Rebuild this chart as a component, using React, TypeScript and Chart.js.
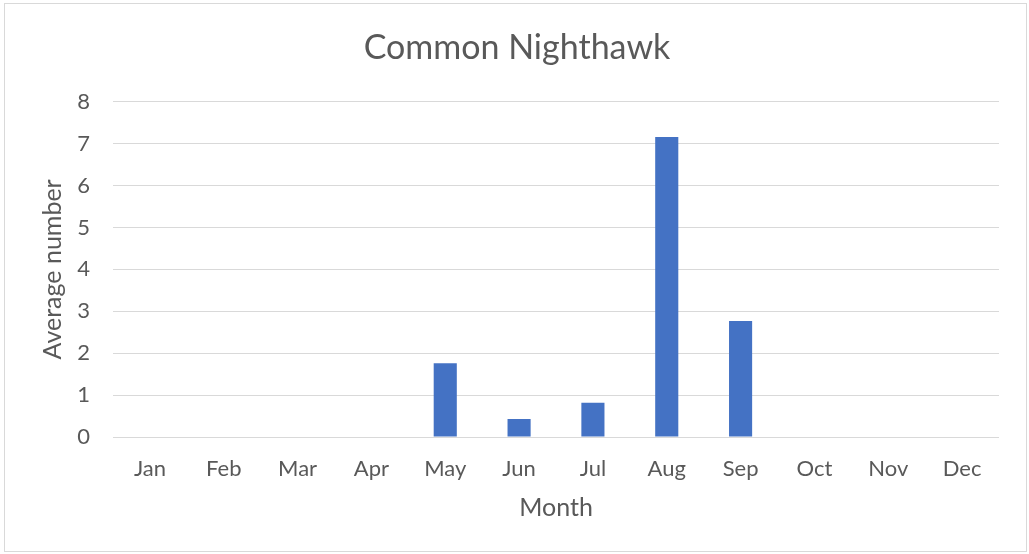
import React, { useEffect, useRef } from "react";
import { Chart, registerables } from "chart.js";

Chart.register(...registerables);

const months = ["Jan", "Feb", "Mar", "Apr", "May", "Jun", "Jul", "Aug", "Sep", "Oct", "Nov", "Dec"];
const averages = [0, 0, 0, 0, 1.76, 0.43, 0.82, 7.16, 2.77, 0, 0, 0];
const chartTitle = "Common Nighthawk";
const xTitle = "Month";
const yTitle = "Average number";

const FONT = "Lato, 'Open Sans', sans-serif";
const TEXT = "#595959";

export default function App() {
  const ref = useRef<HTMLCanvasElement | null>(null);

  useEffect(() => {
    document.body.style.margin = "0";
    const canvas = ref.current;
    if (!canvas) return;
    const chart = new Chart(canvas, {
      type: "bar",
      data: {
        labels: months,
        datasets: [
          {
            label: "Average number",
            data: averages,
            backgroundColor: "#4472c4",
            borderWidth: 0,
            barPercentage: 0.313,
            categoryPercentage: 1,
          },
        ],
      },
      options: {
        responsive: false,
        animation: false,
        devicePixelRatio: 1,
        layout: { padding: { left: 35, right: 30, top: 0, bottom: 0 } },
        plugins: {
          legend: { display: false },
          tooltip: { enabled: false },
          title: {
            display: true,
            text: chartTitle,
            color: TEXT,
            font: { family: FONT, size: 34, weight: "normal" },
            padding: { top: 28, bottom: 33 },
          },
        },
        scales: {
          x: {
            grid: { display: false, drawTicks: false },
            border: { display: false },
            ticks: {
              color: TEXT,
              font: { family: FONT, size: 22 },
              padding: 19,
              maxRotation: 0,
              autoSkip: false,
            },
            title: {
              display: true,
              text: xTitle,
              color: TEXT,
              font: { family: FONT, size: 25 },
              padding: { top: 0, bottom: 31 },
            },
            afterFit: (s: any) => {
              s.height = 117;
            },
          },
          y: {
            min: 0,
            max: 8,
            grid: { color: "#d9d9d9", lineWidth: 1, drawTicks: false },
            border: { display: false },
            ticks: {
              stepSize: 1,
              color: TEXT,
              font: { family: FONT, size: 22 },
              padding: 23,
            },
            title: {
              display: true,
              text: yTitle,
              color: TEXT,
              font: { family: FONT, size: 25 },
              padding: { top: 3, bottom: 0 },
            },
            afterFit: (s: any) => {
              s.width = 78;
            },
          },
        },
      },
    });
    return () => chart.destroy();
  }, []);

  return (
    <div style={{ position: "relative", width: 1029, height: 554, background: "#fff" }}>
      <canvas ref={ref} width={1029} height={554} style={{ display: "block" }} />
      <div
        style={{
          position: "absolute",
          left: 4,
          top: 3,
          width: 1021,
          height: 547,
          border: "1px solid #d9d9d9",
          pointerEvents: "none",
        }}
      />
    </div>
  );
}
